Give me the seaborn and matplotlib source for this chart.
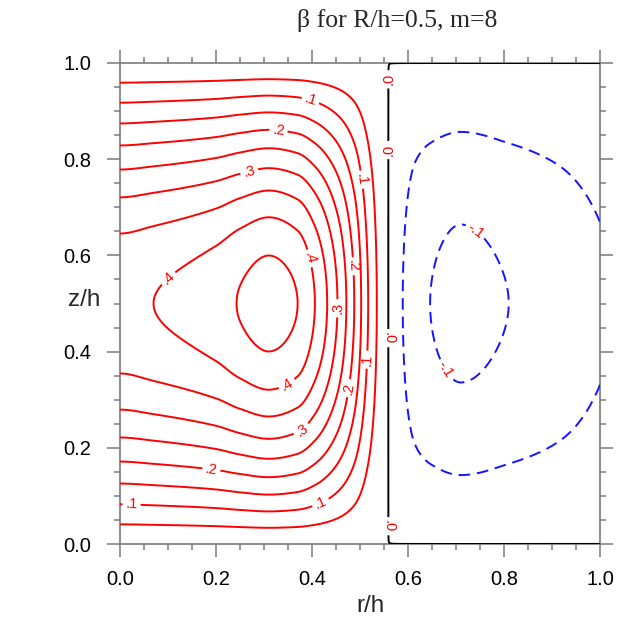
import numpy as np
import matplotlib
matplotlib.use("Agg")
import matplotlib.pyplot as plt
import seaborn as sns

# Radial amplitude of beta at mid-height (z/h = 0.5)
r_nodes = [0.000, 0.070, 0.200, 0.250, 0.310, 0.370, 0.406, 0.453, 0.488,
           0.517, 0.535, 0.559, 0.589, 0.615, 0.646, 0.710, 0.810, 0.917, 1.000]
amp_nodes = [0.390, 0.400, 0.430, 0.453, 0.473, 0.450, 0.400, 0.300, 0.200,
             0.100, 0.050, 0.000, -0.050, -0.083, -0.100, -0.115, -0.100, -0.080, -0.058]

# Contour levels and their labels
pos_levels = [0.05, 0.10, 0.15, 0.20, 0.25, 0.30, 0.35, 0.40, 0.45]
neg_levels = [-0.10, -0.05]
zero_level = [0.0]
level_labels = {-0.10: "-.1", 0.0: ".0", 0.10: ".1", 0.20: ".2", 0.30: ".3", 0.40: ".4"}

x_ticks = [0.0, 0.2, 0.4, 0.6, 0.8, 1.0]
y_ticks = [0.0, 0.2, 0.4, 0.6, 0.8, 1.0]
title = "\u03b2 for R/h=0.5, m=8"


def pchip(x, y, xq):
    """Shape-preserving piecewise cubic Hermite interpolation."""
    x = np.asarray(x, float)
    y = np.asarray(y, float)
    h = np.diff(x)
    d = np.diff(y) / h
    m = np.zeros_like(y)
    for k in range(1, len(x) - 1):
        if d[k - 1] * d[k] > 0:
            w1 = 2 * h[k] + h[k - 1]
            w2 = h[k] + 2 * h[k - 1]
            m[k] = (w1 + w2) / (w1 / d[k - 1] + w2 / d[k])
    m[0] = 0.0
    m[-1] = d[-1]
    idx = np.clip(np.searchsorted(x, xq) - 1, 0, len(x) - 2)
    t = (xq - x[idx]) / h[idx]
    h00 = 2 * t**3 - 3 * t**2 + 1
    h10 = t**3 - 2 * t**2 + t
    h01 = -2 * t**3 + 3 * t**2
    h11 = t**3 - t**2
    return (h00 * y[idx] + h10 * h[idx] * m[idx]
            + h01 * y[idx + 1] + h11 * h[idx] * m[idx + 1])


# Field on the (r, z) grid: radial amplitude times the vertical mode
r = np.linspace(0.0, 1.0, 801)
z = np.linspace(0.0, 1.0, 801)
R, Z = np.meshgrid(r, z)
beta = pchip(r_nodes, amp_nodes, R) * np.sin(np.pi * Z) + 3e-5

sns.set_theme(style="ticks")
plt.rcParams["font.family"] = ["Liberation Sans", "DejaVu Sans"]

fig = plt.figure(figsize=(6.24, 6.33), dpi=100)
ax = fig.add_axes([120 / 624, 1 - 544 / 633, 480 / 624, 481 / 633])

label_spots = {
    0.10: [(0.396, 0.920), (0.500, 0.757), (0.024, 0.078), (0.420, 0.081), (0.521, 0.383)],
    0.20: [(0.330, 0.857), (0.479, 0.577), (0.476, 0.324), (0.190, 0.152)],
    0.30: [(0.270, 0.771), (0.455, 0.490), (0.382, 0.233)],
    0.40: [(0.104, 0.549), (0.396, 0.594), (0.351, 0.327)],
    0.0: [(0.559, 0.966), (0.559, 0.819), (0.559, 0.428), (0.559, 0.037)],
    -0.10: [(0.740, 0.650), (0.670, 0.358)],
}

for lev in neg_levels + zero_level + pos_levels:
    if lev < 0:
        color, style = "#1414ff", (0, (6.0, 3.5))
    elif lev == 0:
        color, style = "black", "solid"
    else:
        color, style = "#ff0000", "solid"
    cs = ax.contour(R, Z, beta, levels=[lev], colors=[color],
                    linewidths=1.4, linestyles=[style], zorder=3)
    if lev in label_spots:
        ax.clabel(cs, levels=[lev], manual=label_spots[lev], fmt=level_labels,
                  colors="#ff0000", fontsize=10.5, inline=True, inline_spacing=3)

ax.set_xlim(0, 1)
ax.set_ylim(0, 1)
ax.set_xticks(x_ticks)
ax.set_yticks(y_ticks)
ax.set_xticklabels([f"{v:.1f}" for v in x_ticks])
ax.set_yticklabels([f"{v:.1f}" for v in y_ticks])
ax.set_xticks(np.arange(0.05, 1.0, 0.05), minor=True)
ax.set_yticks(np.arange(0.05, 1.0, 0.05), minor=True)

axis_gray = "#7a7a7a"
for sp in ax.spines.values():
    sp.set_color(axis_gray)
    sp.set_linewidth(1.2)
ax.tick_params(which="both", direction="out", top=True, right=True,
               color=axis_gray, width=1.1, labelsize=14.5, labelcolor="black")
ax.tick_params(which="major", length=9.5)
ax.tick_params(which="minor", length=4.5)
ax.tick_params(axis="x", which="major", pad=9)
ax.tick_params(axis="y", which="major", pad=11)

fig.text(371 / 624, 1 - 606 / 633, "r/h", ha="center", va="center", fontsize=17.5)
fig.text(84 / 624, 1 - 300 / 633, "z/h", ha="center", va="center", fontsize=17.5)
fig.text(397 / 624, 1 - 21 / 633, title, ha="center", va="center", fontsize=18.5,
         family=["Liberation Serif", "DejaVu Serif"])

fig.savefig("out.png", dpi=100)
